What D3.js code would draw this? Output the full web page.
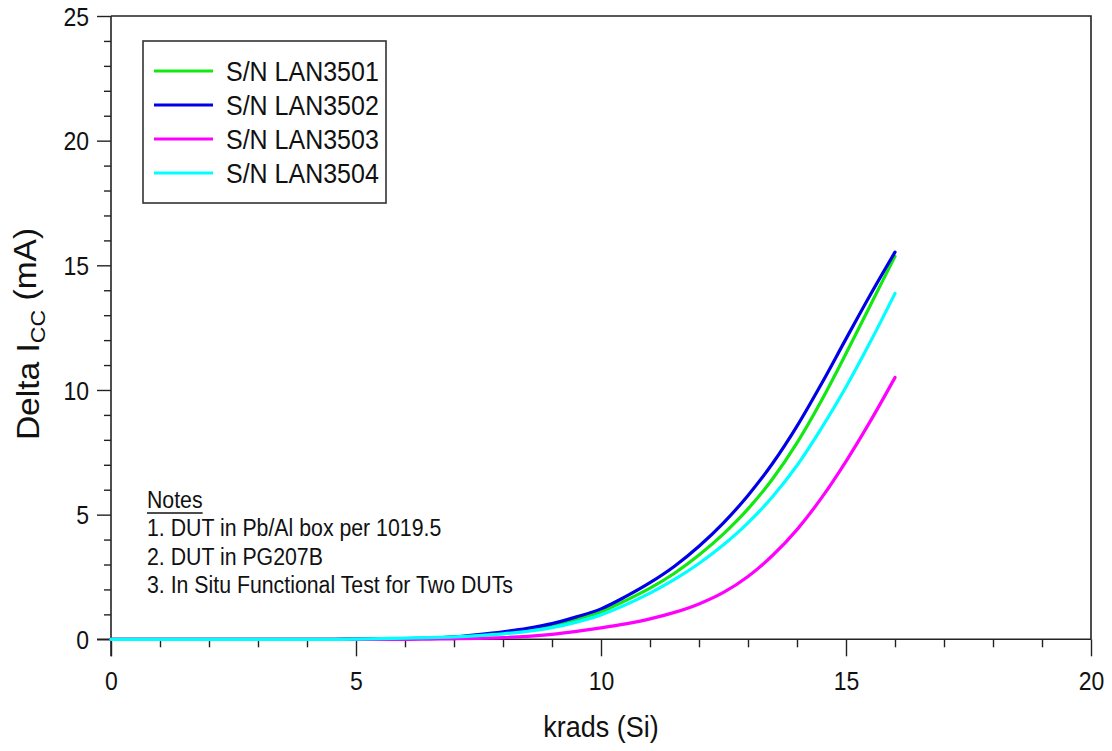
<!DOCTYPE html>
<html>
<head>
<meta charset="utf-8">
<script src="https://cdn.jsdelivr.net/npm/d3@7/dist/d3.min.js"></script>
<style>
  html, body { margin: 0; padding: 0; background: #ffffff; }
  svg { display: block; }
  text { font-family: "Liberation Sans", Arial, sans-serif; fill: #111; }
</style>
</head>
<body>
<svg id="chart" width="1112" height="751"></svg>
<script>
// ---------------- data ----------------
const krads = [0,0.5,1,1.5,2,2.5,3,3.5,4,4.5,5,5.5,6,6.5,7,7.5,8,8.5,9,9.5,10,10.5,11,11.5,12,12.5,13,13.5,14,14.5,15,15.5,16];

const lan3501 = [0,0,0,0,0,0,0,0,0,0,0.01,0.02,0.03,0.05,0.09,0.16,0.26,0.38,0.55,0.8,1.1,1.55,2.05,2.65,3.38,4.23,5.23,6.43,7.88,9.58,11.46,13.41,15.36];
const lan3502 = [0,0,0,0,0,0,0,0,0,0,0.01,0.02,0.03,0.05,0.1,0.19,0.3,0.44,0.63,0.9,1.22,1.71,2.27,2.93,3.73,4.67,5.77,7.05,8.55,10.25,12.05,13.83,15.53];
const lan3503 = [0,0,0,0,0,0,0,0,0,0,0,0,0,0.01,0.02,0.04,0.07,0.12,0.2,0.32,0.46,0.62,0.82,1.08,1.42,1.88,2.52,3.36,4.4,5.67,7.14,8.76,10.5];
const lan3504 = [0,0,0,0,0,0,0,0,0,0,0.01,0.03,0.05,0.07,0.1,0.15,0.22,0.32,0.47,0.69,0.98,1.38,1.85,2.4,3.04,3.79,4.67,5.72,6.97,8.47,10.12,11.94,13.87];

const seriesNames = ["S/N LAN3501", "S/N LAN3502", "S/N LAN3503", "S/N LAN3504"];
const seriesValues = [lan3501, lan3502, lan3503, lan3504];
const seriesColors = ["#12e812", "#0000e6", "#ff00ff", "#00ffff"];

const xTickValues = [0,1,2,3,4,5,6,7,8,9,10,11,12,13,14,15,16,17,18,19,20];
const yTickValues = [0,1,2,3,4,5,6,7,8,9,10,11,12,13,14,15,16,17,18,19,20,21,22,23,24,25];
const xTitle = "krads (Si)";
const notesTitle = "Notes";
const notesLines = ["1. DUT in Pb/Al box per 1019.5", "2. DUT in PG207B", "3. In Situ Functional Test for Two DUTs"];

// ---------------- layout ----------------
const SY = 1.1; // vertical text stretch of the original picture
const pL = 111, pR = 1091, pT = 16, pB = 639.3;
const svg = d3.select("#chart");

const x = d3.scaleLinear().domain([0, 20]).range([pL, pR]);
const y = d3.scaleLinear().domain([0, 25]).range([pB, pT]);

// frame (top and right)
svg.append("path")
  .attr("d", `M${pL},${pT}H${pR}V${pB}`)
  .attr("fill", "none").attr("stroke", "#222").attr("stroke-width", 1.6);

// x axis
const xAxis = d3.axisBottom(x)
  .tickValues(xTickValues)
  .tickSizeOuter(0)
  .tickSize(0)
  .tickFormat(d => d % 5 === 0 ? d3.format("d")(d) : "");
const gx = svg.append("g").attr("transform", `translate(0,${pB})`).call(xAxis);
gx.select(".domain").attr("stroke", "#222").attr("stroke-width", 1.6)
  .attr("d", `M${pL - 14},0H${pR}`);
gx.selectAll(".tick line")
  .attr("stroke", "#222").attr("stroke-width", 1.4)
  .attr("y2", d => d % 5 === 0 ? 17 : 8);
gx.selectAll(".tick text")
  .attr("y", null).attr("dy", null)
  .attr("transform", `translate(0,51) scale(1,${SY})`)
  .style("font-size", "23px")
  .style("font-family", "'Liberation Sans', Arial, sans-serif")
  .attr("fill", "#111");

// y axis
const yAxis = d3.axisLeft(y)
  .tickValues(yTickValues)
  .tickSizeOuter(0)
  .tickSize(0)
  .tickFormat(d => d % 5 === 0 ? d3.format("d")(d) : "");
const gy = svg.append("g").attr("transform", `translate(${pL},0)`).call(yAxis);
gy.select(".domain").attr("stroke", "#222").attr("stroke-width", 1.6)
  .attr("d", `M0,${pB + 17}V${pT}`);
gy.selectAll(".tick line")
  .attr("stroke", "#222").attr("stroke-width", 1.4)
  .attr("x2", d => d % 5 === 0 ? -14 : -7);
gy.selectAll(".tick text")
  .attr("x", null)
  .attr("transform", `translate(-22,0) scale(1,${SY})`)
  .attr("dy", "0.36em")
  .style("font-size", "23px")
  .style("font-family", "'Liberation Sans', Arial, sans-serif")
  .attr("fill", "#111");

// y title
const yt = svg.append("text")
  .attr("transform", `translate(39,334) scale(1,${SY}) rotate(-90)`)
  .attr("text-anchor", "middle")
  .style("font-size", "30.5px");
yt.append("tspan").text("Delta I");
yt.append("tspan").attr("dy", "0.3em").style("font-size", "21px").text("CC");
yt.append("tspan").attr("dy", "-0.3em").text(" (mA)");

// x title
svg.append("text")
  .attr("transform", `translate(601,737) scale(1,${SY})`)
  .attr("text-anchor", "middle")
  .style("font-size", "27px")
  .text(xTitle);

// lines
const line = d3.line()
  .x((d, i) => x(krads[i]))
  .y(d => y(d))
  .curve(d3.curveMonotoneX);

const order = [0, 1, 2, 3];
svg.append("g").selectAll("path")
  .data(order)
  .join("path")
  .attr("d", i => line(seriesValues[i]))
  .attr("fill", "none")
  .attr("stroke", i => seriesColors[i])
  .attr("stroke-width", 3.2)
  .attr("stroke-linejoin", "round")
  .attr("stroke-linecap", "round");

// legend
const lg = svg.append("g");
lg.append("rect")
  .attr("x", 143).attr("y", 41).attr("width", 243).attr("height", 162)
  .attr("fill", "#fff").attr("stroke", "#333").attr("stroke-width", 1.6);
const rowY = [71, 105, 139, 173];
seriesNames.forEach((name, i) => {
  lg.append("line")
    .attr("x1", 154).attr("x2", 213)
    .attr("y1", rowY[i]).attr("y2", rowY[i])
    .attr("stroke", seriesColors[i]).attr("stroke-width", 3.2);
  lg.append("text")
    .attr("transform", `translate(226,${rowY[i]}) scale(1,1.07)`)
    .attr("dy", "0.36em")
    .style("font-size", "25px")
    .text(name);
});

// notes
const notes = svg.append("g");
const noteBase = [508, 536.3, 564.6, 593];
const nt = notes.append("text")
  .attr("transform", `translate(147,${noteBase[0]}) scale(1,${SY})`)
  .style("font-size", "21.3px")
  .text(notesTitle);
const ntw = nt.node().getComputedTextLength();
notes.append("line")
  .attr("x1", 147).attr("x2", 147 + ntw)
  .attr("y1", noteBase[0] + 5).attr("y2", noteBase[0] + 5)
  .attr("stroke", "#111").attr("stroke-width", 1.5);
notesLines.forEach((t, i) => {
  notes.append("text")
    .attr("transform", `translate(147,${noteBase[i + 1]}) scale(1,${SY})`)
    .style("font-size", "21.3px")
    .text(t);
});
</script>
</body>
</html>
